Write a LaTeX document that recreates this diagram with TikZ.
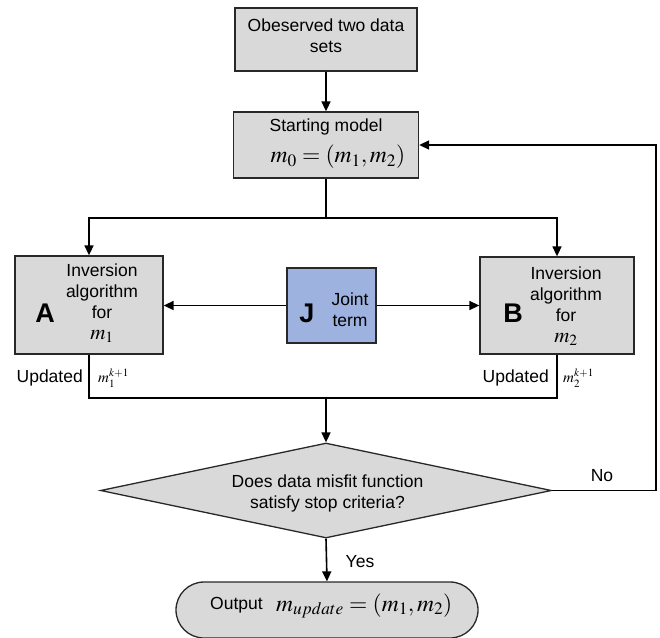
\documentclass[tikz,border=0pt]{standalone}
\usepackage{mathptmx}
\usepackage[no-math]{fontspec}
\setmainfont{Liberation Sans}
\usetikzlibrary{shapes.geometric,shapes.misc,arrows.meta}
\definecolor{boxgray}{RGB}{217,217,217}
\definecolor{jblue}{RGB}{158,178,224}
\definecolor{edge}{RGB}{40,40,40}
\newcommand{\largemvar}[1]{{\fontsize{21}{21}\selectfont$#1$}}
\begin{document}
\begin{tikzpicture}[x=1pt,y=-1pt,
  box/.style={draw=edge, line width=1.3pt, fill=boxgray, inner sep=0pt},
  txt/.style={font=\fontsize{17.5}{21}\selectfont, align=center, inner sep=0pt},
  bigletter/.style={font=\fontsize{27}{27}\selectfont\bfseries, inner sep=0pt},
  lbl/.style={font=\fontsize{17.5}{21}\selectfont, inner sep=0pt},
  mth/.style={font=\fontsize{23.5}{26}\selectfont, inner sep=0pt},
  small/.style={font=\fontsize{15}{17}\selectfont, inner sep=0pt},
  ln/.style={line width=1.6pt, draw=black},
  arr/.style={ln, -{Triangle[length=10pt,width=9pt]}},
]
\useasboundingbox (0,0) rectangle (660,637);

% boxes
\node[box, minimum width=182pt, minimum height=63pt] (top) at (326,39.5) {};
\node[txt] (toptxt) at (326,36) {Obeserved two data\\sets};

\node[box, minimum width=185pt, minimum height=66pt] (start) at (326,145) {};
\node[txt] (starttxt) at (326,127) {Starting model};
\node[mth] (startm) at (338,157) {$m_0=(m_1,m_2)$};

\node[box, minimum width=148pt, minimum height=98pt] (A) at (89,305) {};
\node[bigletter] (Al) at (45,313) {A};
\node[txt] (Atxt) at (102,303.5) {Inversion\\algorithm\\for\\\largemvar{m_1}};

\node[box, fill=jblue, minimum width=89pt, minimum height=75pt] (J) at (331.5,305.5) {};
\node[bigletter] (Jl) at (307,313) {J};
\node[txt] (Jtxt) at (350,310) {Joint\\term};

\node[box, minimum width=154pt, minimum height=97pt] (B) at (557,305.5) {};
\node[bigletter] (Bl) at (513,313) {B};
\node[txt] (Btxt) at (566,306) {Inversion\\algorithm\\for\\\largemvar{m_2}};

\node[box, diamond, minimum width=451pt, minimum height=95pt] (dia) at (326,490.5) {};
\node[txt] (diatxt) at (327.5,493) {Does data misfit function\\satisfy stop criteria?};

\node[box, rounded rectangle, minimum width=302pt, minimum height=56pt] (out) at (327,610) {};
\node[lbl, anchor=west] (outtxt) at (210,605) {Output};
\node[mth, anchor=west] (outm) at (276,606) {$m_{update}=(m_1,m_2)$};

% labels
\node[lbl, anchor=east] (updA) at (83,378) {Updated};
\node[small, anchor=west] (mA) at (98,378) {$m_1^{k+1}$};
\node[lbl, anchor=east] (updB) at (549,378) {Updated};
\node[small, anchor=west] (mB) at (563,378) {$m_2^{k+1}$};
\node[lbl] (no) at (602,476) {No};
\node[lbl] (yes) at (360,562) {Yes};

% connectors
\coordinate (sp) at (326,218);
\coordinate (mg) at (326,398);
\coordinate (fb) at (656,490.5);
\draw[arr] (top.south) -- (start.north);
\draw[ln] (start.south) -- (sp);
\draw[arr] (sp) -| (A.north);
\draw[arr] (sp) -| (B.north);
\draw[arr] (J.west) -- (J.west -| A.east);
\draw[arr] (J.east) -- (J.east -| B.west);
\draw[ln] (A.south) -- (A.south |- mg) -- (B.south |- mg) -- (B.south);
\draw[arr] (mg) -- (dia.north);
\draw[arr] (dia.south) -- (out.north);
\draw[arr] (dia.east) -- (fb) |- (start.east);
\end{tikzpicture}
\end{document}
